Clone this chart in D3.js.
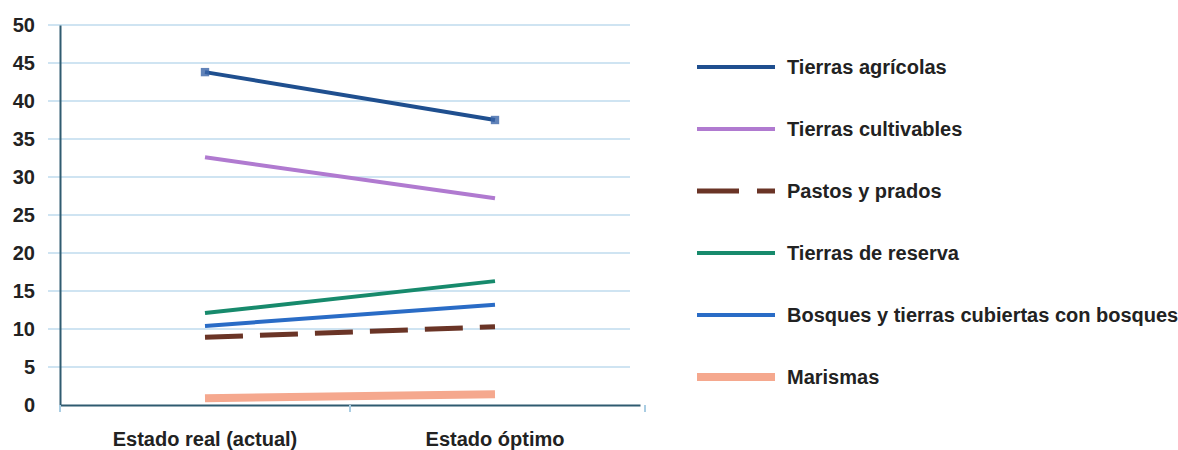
<!DOCTYPE html>
<html><head><meta charset="utf-8">
<script src="https://cdn.jsdelivr.net/npm/d3@7"></script>
<style>
body{margin:0;background:#fff;}
text{font-family:"Liberation Sans",Arial,sans-serif;font-weight:bold;fill:#222;}
</style></head>
<body><svg id="c" width="1178" height="450"></svg>
<script>
const categories = ["Estado real (actual)", "Estado óptimo"];
const seriesNames = ["Tierras agrícolas","Tierras cultivables","Pastos y prados","Tierras de reserva","Bosques y tierras cubiertas con bosques","Marismas"];
const agricolas = [43.8, 37.5];
const cultivables = [32.6, 27.2];
const pastos = [8.9, 10.3];
const reserva = [12.1, 16.3];
const bosques = [10.4, 13.2];
const marismas = [0.9, 1.4];
const yTicks = [0,5,10,15,20,25,30,35,40,45,50];

const seriesValues = [agricolas, cultivables, pastos, reserva, bosques, marismas];
const styles = [
  {color:"#1f4f8f", width:4, dash:null},
  {color:"#b07ad0", width:4, dash:null},
  {color:"#6a3426", width:5, dash:"38,17"},
  {color:"#178a6c", width:4, dash:null},
  {color:"#2a6cc6", width:4, dash:null},
  {color:"#f5a88e", width:8, dash:null}
];

const svg = d3.select("#c");
const x = d3.scaleBand().domain(categories).range([60, 640]);
const y = d3.scaleLinear().domain([0,50]).range([405, 25]);

// gridlines
svg.append("g").selectAll("line").data(yTicks.filter(d=>d>0)).join("line")
  .attr("x1",48).attr("x2",630).attr("y1",d=>y(d)).attr("y2",d=>y(d))
  .attr("stroke","#cfe4f2").attr("stroke-width",2);

// y axis
const ya = svg.append("g").attr("transform","translate(60,0)")
  .call(d3.axisLeft(y).tickValues(yTicks).tickSize(0).tickPadding(25));
ya.select(".domain").attr("stroke","#2f5b70").attr("stroke-width",2);
ya.selectAll("text").attr("font-size",20).attr("fill","#222");

// x axis
const xa = svg.append("g").attr("transform","translate(0,405)")
  .call(d3.axisBottom(x).tickSize(0).tickPadding(27));
xa.select(".domain").attr("stroke","#2f5b70").attr("stroke-width",2);
xa.selectAll("text").attr("font-size",20).attr("fill","#222");
svg.append("g").selectAll("line").data([60, 350, 645]).join("line")
  .attr("x1",d=>d).attr("x2",d=>d).attr("y1",405).attr("y2",412)
  .attr("stroke","#a9cde3").attr("stroke-width",2);

// lines
const line = d3.line().x((d,i)=>x(categories[i]) + x.bandwidth()/2).y(d=>y(d));
seriesValues.forEach((vals,i)=>{
  const s = styles[i];
  svg.append("path").datum(vals).attr("d",line)
    .attr("fill","none").attr("stroke",s.color).attr("stroke-width",s.width)
    .attr("stroke-dasharray",s.dash);
});
// markers for agrícolas
svg.append("g").selectAll("path").data(agricolas).join("path")
  .attr("transform",(d,i)=>`translate(${x(categories[i])+x.bandwidth()/2},${y(d)})`)
  .attr("d",d3.symbol(d3.symbolSquare,70)).attr("fill","#3a64a8").attr("opacity",0.8);

// legend
const lg = svg.append("g");
seriesNames.forEach((n,i)=>{
  const yy = 67 + i*62;
  const s = styles[i];
  lg.append("line").attr("x1",697).attr("x2",775).attr("y1",yy).attr("y2",yy)
    .attr("stroke",s.color).attr("stroke-width",s.width)
    .attr("stroke-dasharray", s.dash ? "42,18" : null);
  lg.append("text").attr("x",787).attr("y",yy+7).attr("font-size",20).text(n);
});
</script></body></html>
